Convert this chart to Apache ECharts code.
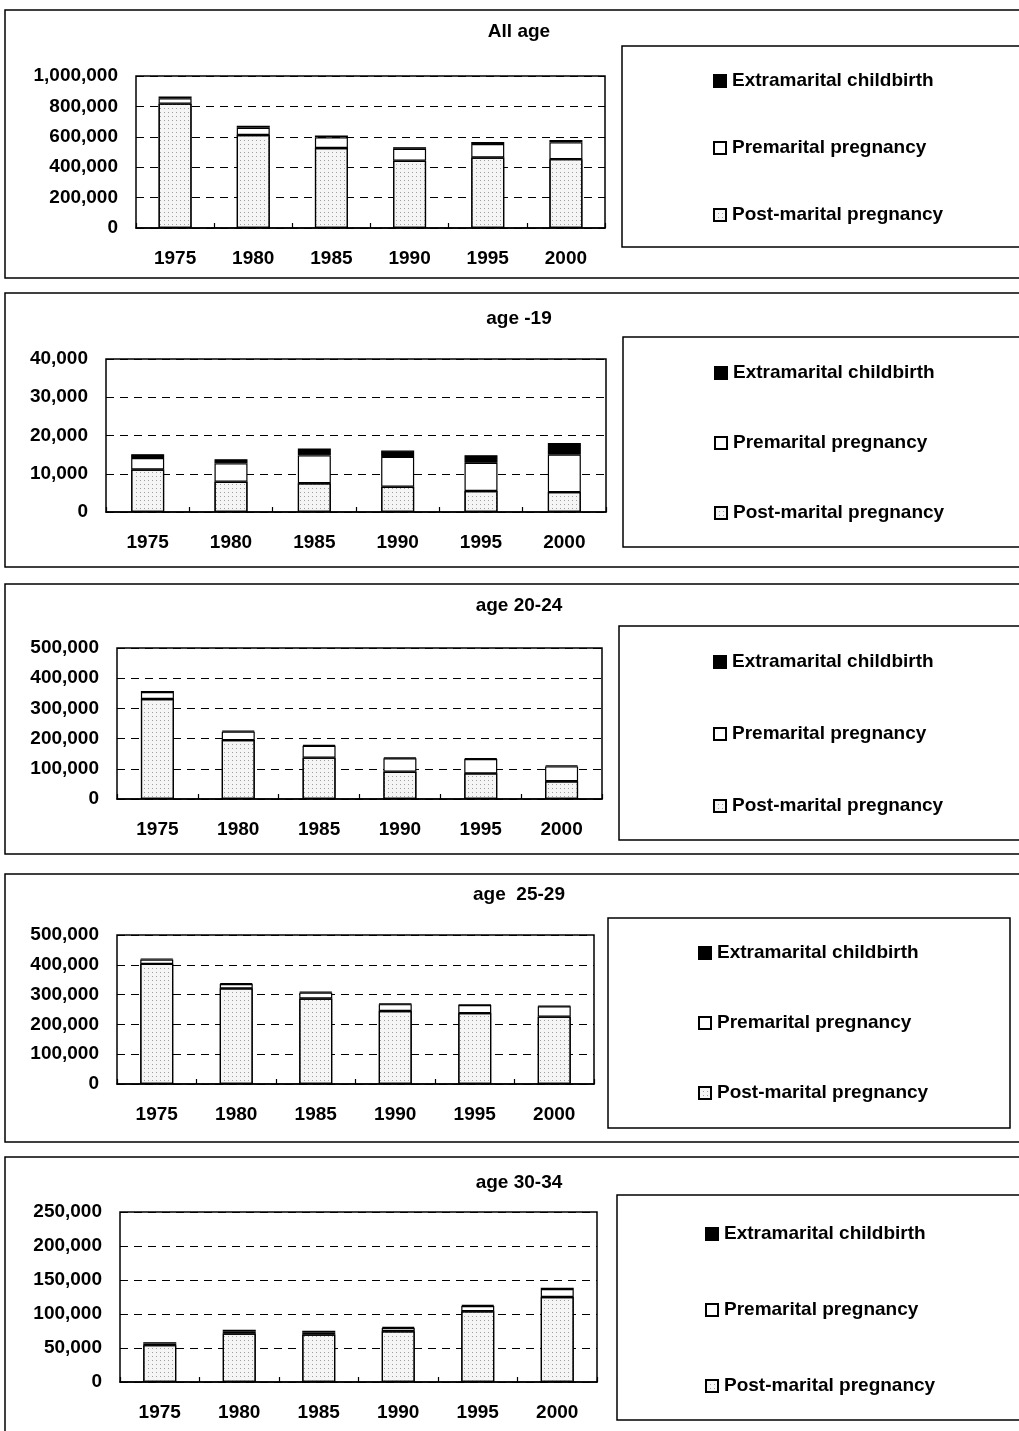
<!DOCTYPE html>
<html><head><meta charset="utf-8">
<script src="https://cdn.jsdelivr.net/npm/echarts@6/dist/echarts.min.js"></script>
<style>html,body{margin:0;padding:0;background:#fff}#c{width:1019px;height:1431px}</style>
</head><body><div id="c"></div>
<script>
// ---- data ----
const years = ['1975', '1980', '1985', '1990', '1995', '2000'];
const seriesNames = ['Extramarital childbirth', 'Premarital pregnancy', 'Post-marital pregnancy'];
const panelTitles = ['All age', 'age -19', 'age 20-24', 'age  25-29', 'age 30-34'];
const yMax = [1000000, 40000, 500000, 500000, 250000];
const yInterval = [200000, 10000, 100000, 100000, 50000];

const allPost  = [818000, 612000, 526000, 442000, 464000, 453000];
const allPre   = [35000, 48000, 70000, 79000, 89000, 110000];
const allExtra = [12000, 12000, 13000, 11000, 13000, 16000];

const u19Post  = [11100, 7900, 7500, 6600, 5500, 5200];
const u19Pre   = [3000, 4800, 7300, 7800, 7350, 9800];
const u19Extra = [1000, 1100, 1800, 1650, 2000, 3050];

const a2024Post  = [331000, 195000, 137000, 90000, 85000, 59000];
const a2024Pre   = [23000, 28000, 39000, 45000, 47500, 49000];
const a2024Extra = [4000, 3000, 3000, 3000, 3000, 3500];

const a2529Post  = [403000, 321000, 287000, 245000, 238000, 226000];
const a2529Pre   = [15000, 14500, 19500, 23000, 27000, 34500];
const a2529Extra = [3000, 3000, 3000, 2000, 2000, 2500];

const a3034Post  = [54200, 71300, 69800, 74700, 104000, 125000];
const a3034Pre   = [2400, 3400, 3400, 4800, 7800, 11700];
const a3034Extra = [2000, 2000, 2000, 1500, 1500, 2000];

const panelData = [
  [allPost, allPre, allExtra],
  [u19Post, u19Pre, u19Extra],
  [a2024Post, a2024Pre, a2024Extra],
  [a2529Post, a2529Pre, a2529Extra],
  [a3034Post, a3034Pre, a3034Extra]
];

// ---- layout ----
const FONT = "'Liberation Sans', Arial, Helvetica, sans-serif";
const FS = 19;
const FW = 'bold';
const gridPos = [
  {left: 136, top: 76, width: 469, height: 152},
  {left: 106, top: 359, width: 500, height: 153},
  {left: 117, top: 648, width: 485, height: 151},
  {left: 117, top: 935, width: 477, height: 149},
  {left: 120, top: 1212, width: 477, height: 170}
];
const titleY = [32, 319, 606, 895, 1183];
const outerBox = [[5, 10, 1030, 268], [5, 293, 1030, 274], [5, 584, 1030, 270], [5, 874, 1030, 268], [5, 1157, 1030, 290]];
const legendBox = [[622, 46, 420, 201], [623, 337, 420, 210], [619, 626, 420, 214], [608, 918, 402, 210], [617, 1195, 420, 225]];
const legendPos = [[713, 81, 67], [714, 373, 70], [713, 662, 72], [698, 953, 70], [705, 1234, 76]];

const styles = {
  'Post-marital pregnancy': {color: '#f5f5f5', borderColor: '#000', borderWidth: 1.2,
    decal: {symbol: 'rect', symbolSize: 1, color: '#a0a0a0', dashArrayX: [1, 3], dashArrayY: [1, 3], rotation: 0}},
  'Premarital pregnancy': {color: '#ffffff', borderColor: '#000', borderWidth: 1.2},
  'Extramarital childbirth': {color: '#000000', borderColor: '#000', borderWidth: 1.2}
};

const grids = [], xAxes = [], yAxes = [], series = [], legends = [], graphics = [];

gridPos.forEach((g, i) => {
  grids.push(Object.assign({show: true, borderColor: '#000', borderWidth: 1.5, backgroundColor: 'transparent'}, g));
  xAxes.push({
    type: 'category', gridIndex: i, data: years,
    axisLine: {lineStyle: {color: '#000', width: 1.5}},
    axisTick: {show: true, inside: true, length: 5, lineStyle: {color: '#000', width: 1.2}},
    axisLabel: {color: '#000', fontSize: FS, fontWeight: FW, fontFamily: FONT, margin: 21}
  });
  yAxes.push({
    type: 'value', gridIndex: i, min: 0, max: yMax[i], interval: yInterval[i],
    axisLine: {show: false}, axisTick: {show: false},
    axisLabel: {color: '#000', fontSize: FS, fontWeight: FW, fontFamily: FONT, margin: 18,
      formatter: v => v.toLocaleString('en-US')},
    splitLine: {lineStyle: {color: '#000', width: 1, type: [8, 6]}}
  });
  const [post, pre, extra] = panelData[i];
  [['Post-marital pregnancy', post], ['Premarital pregnancy', pre], ['Extramarital childbirth', extra]].forEach(([name, arr]) => {
    series.push({
      type: 'bar', name, xAxisIndex: i, yAxisIndex: i, stack: 'p' + i,
      data: arr, barWidth: 33, silent: true,
      itemStyle: styles[name]
    });
  });
  const [lx, ly, sp] = legendPos[i];
  legends.push({
    orient: 'vertical', left: lx, top: ly - 10, padding: 0,
    itemWidth: 12, itemHeight: 12, itemGap: sp - 20, icon: 'rect',
    data: seriesNames, selectedMode: false,
    textStyle: {color: '#000', fontSize: FS, fontWeight: FW, fontFamily: FONT, lineHeight: 20, padding: [0, 0, 0, 1]}
  });
  const ob = outerBox[i];
  graphics.push({type: 'rect', shape: {x: ob[0], y: ob[1], width: ob[2], height: ob[3]},
    style: {fill: 'none', stroke: '#000', lineWidth: 1.5}, silent: true, z: -1});
  const lb = legendBox[i];
  graphics.push({type: 'rect', shape: {x: lb[0], y: lb[1], width: lb[2], height: lb[3]},
    style: {fill: 'none', stroke: '#000', lineWidth: 1.5}, silent: true, z: -1});
  graphics.push({type: 'text', x: 519, y: titleY[i],
    style: {text: panelTitles[i], fill: '#000', font: FW + ' ' + FS + 'px ' + FONT, textAlign: 'center', textVerticalAlign: 'middle'}});
});

const chart = echarts.init(document.getElementById('c'), null, {renderer: 'canvas'});
chart.setOption({
  animation: false,
  backgroundColor: '#fff',
  grid: grids, xAxis: xAxes, yAxis: yAxes, series, legend: legends, graphic: graphics
});
</script></body></html>
